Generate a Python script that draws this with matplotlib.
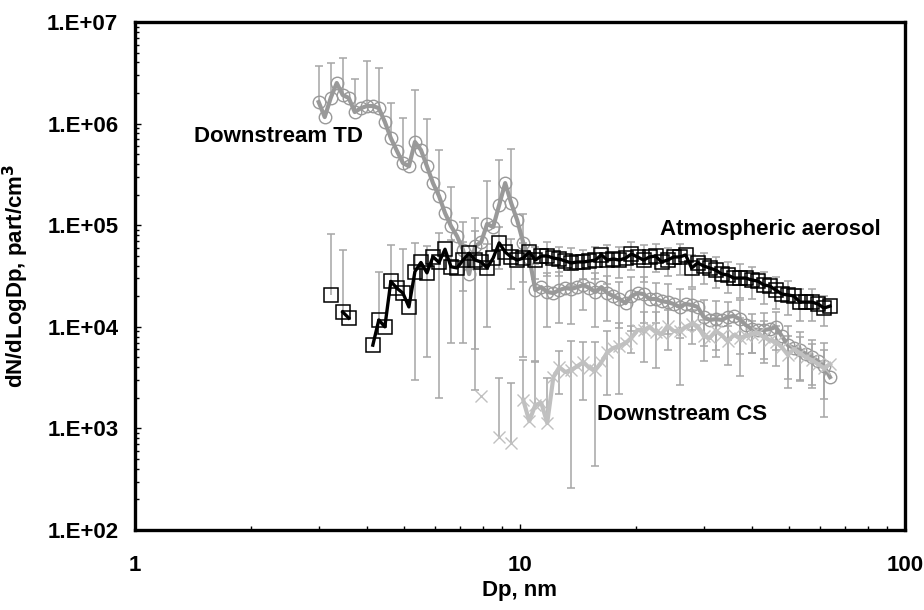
import numpy as np
import matplotlib
matplotlib.use("Agg")
import matplotlib.pyplot as plt
from matplotlib.ticker import LogLocator, FuncFormatter, NullFormatter

plt.rcParams['font.family'] = ['Liberation Sans', 'DejaVu Sans']
plt.rcParams['font.weight'] = 'bold'

nan = np.nan

# particle diameter (nm), SMPS channels
dp = [3.000, 3.110, 3.224, 3.342, 3.464, 3.591, 3.722, 3.859, 4.000, 4.147,
      4.299, 4.456, 4.619, 4.789, 4.964, 5.146, 5.335, 5.530, 5.733, 5.943,
      6.161, 6.386, 6.620, 6.863, 7.114, 7.375, 7.645, 7.925, 8.216, 8.517,
      8.829, 9.152, 9.487, 9.835, 10.20, 10.57, 10.96, 11.36, 11.77, 12.21,
      12.65, 13.12, 13.60, 14.09, 14.61, 15.15, 15.70, 16.28, 16.87, 17.49,
      18.13, 18.80, 19.48, 20.20, 20.94, 21.70, 22.50, 23.32, 24.18, 25.06,
      25.98, 26.93, 27.92, 28.94, 30.00, 31.10, 32.24, 33.42, 34.64, 35.91,
      37.22, 38.59, 40.00, 41.47, 42.99, 44.56, 46.19, 47.89, 49.64, 51.46,
      53.35, 55.30, 57.33, 59.43, 61.61, 63.86]

# Downstream TD
td = [1.63e6, 1.16e6, 1.79e6, 2.51e6, 1.91e6, 1.79e6, 1.30e6, 1.42e6, 1.49e6, 1.49e6,
      1.42e6, 1.04e6, 7.2e5, 5.4e5, 4.1e5, 3.8e5, 6.6e5, 5.5e5, 3.8e5, 2.6e5,
      1.94e5, 1.32e5, 9.8e4, 7.8e4, 5.7e4, 3.3e4, 6.2e4, 6.8e4, 1.03e5, 9.6e4,
      1.58e5, 2.6e5, 1.65e5, 1.12e5, 6.7e4, 4.8e4, 2.30e4, 2.46e4, 2.20e4, 2.15e4,
      2.30e4, 2.41e4, 2.36e4, 2.46e4, 2.58e4, 2.41e4, 2.20e4, 2.46e4, 2.15e4, 2.01e4,
      1.88e4, 1.71e4, 2.01e4, 2.15e4, 2.10e4, 1.88e4, 1.88e4, 1.79e4, 1.75e4, 1.68e4,
      1.57e4, 1.68e4, 1.64e4, 1.57e4, 1.25e4, 1.17e4, 1.19e4, 1.17e4, 1.25e4, 1.28e4,
      1.19e4, 1.04e4, 9.5e3, 9.3e3, 9.3e3, 9.5e3, 9.96e3, 8.1e3, 6.6e3, 6.2e3,
      5.9e3, 5.4e3, 5.0e3, 4.6e3, 4.1e3, 3.2e3]

# Atmospheric aerosol
atm = [nan, nan, 2.06e4, nan, 1.4e4, 1.22e4, nan, nan, nan, 6.6e3,
       1.17e4, 1.0e4, 2.8e4, 2.4e4, 2.15e4, 1.57e4, 3.5e4, 4.3e4, 3.4e4, 4.9e4,
       4.3e4, 5.8e4, 3.9e4, 3.8e4, 4.54e4, 5.3e4, 4.54e4, 4.35e4, 3.8e4, 4.75e4,
       6.7e4, 5.45e4, 4.87e4, 4.54e4, 4.75e4, 5.45e4, 4.54e4, 4.98e4, 4.98e4, 4.75e4,
       4.65e4, 4.44e4, 4.25e4, 4.35e4, 4.35e4, 4.44e4, 4.54e4, 5.1e4, 4.54e4, 4.65e4,
       4.54e4, 4.75e4, 5.2e4, 4.87e4, 4.54e4, 4.87e4, 4.98e4, 4.35e4, 4.54e4, 4.87e4,
       4.87e4, 5.1e4, 3.79e4, 4.25e4, 3.97e4, 3.79e4, 3.62e4, 3.31e4, 3.24e4, 3.02e4,
       3.02e4, 3.02e4, 2.89e4, 2.82e4, 2.58e4, 2.52e4, 2.30e4, 2.10e4, 2.06e4, 2.01e4,
       1.75e4, 1.75e4, 1.75e4, 1.68e4, 1.53e4, 1.60e4]

# Downstream CS
cs = [nan, nan, nan, nan, nan, nan, nan, nan, nan, nan,
      nan, nan, nan, nan, nan, nan, nan, nan, nan, nan,
      nan, nan, nan, nan, nan, nan, nan, 2.08e3, nan, nan,
      8.2e2, nan, 7.2e2, nan, 1.90e3, 1.18e3, 1.70e3, 1.78e3, 1.13e3, 3.2e3,
      4.0e3, 3.59e3, 3.76e3, 4.1e3, 4.5e3, 3.93e3, 3.76e3, 4.5e3, 5.65e3, 6.2e3,
      6.5e3, 6.9e3, 7.8e3, 9.3e3, 9.3e3, 9.96e3, 8.9e3, 8.5e3, 1.02e4, 9.1e3,
      9.1e3, 9.96e3, 1.07e4, 1.02e4, 8.1e3, 7.8e3, 9.1e3, 8.3e3, 7.2e3, 8.3e3,
      7.8e3, 8.1e3, 8.5e3, 8.7e3, 7.9e3, 7.4e3, 7.1e3, 6.3e3, 5.3e3, 6.05e3,
      5.5e3, 5.0e3, 4.7e3, 4.3e3, 3.93e3, 4.3e3]

# standard deviations, every second channel
td_sd = [2.1e6, 2.2e6, 2.5e6, 1.45e6, 2.6e6, 2.1e6, 8.8e5, 7.3e5, 1.5e6, 7.3e5,
         3.5e5, 1.4e5, 5.0e4, 5.6e4, 1.67e5, 2.8e5, 4.0e5, 6.2e4, 1.84e4, 1.2e4,
         1.2e4, 1.3e4, 1.1e4, 1.2e4, 1.0e4, 9e3, 1.1e4, 1.0e4, 8e3, 9e3,
         8e3, 7e3, 6e3, 6e3, 5e3, 6.5e3, 4e3, 4.5e3, 4e3, 3.5e3,
         3e3, 2.5e3, 2.8e3]
atm_sd = [nan, 6.1e4, 4.3e4, nan, nan, 2.3e4, 3.6e4, 3.7e4, 3.2e4, 2.9e4,
          4.1e4, 3.2e4, 2.3e4, 4.3e4, 2.8e4, 3e4, 2.5e4, 2e4, 1.6e4, 1.8e4,
          1.5e4, 1.7e4, 1.4e4, 1.6e4, 1.9e4, 1.5e4, 1.6e4, 1.8e4, 1.5e4, 1.4e4,
          1.6e4, 1.3e4, 1.35e4, 1.2e4, 1.1e4, 1.1e4, 1.0e4, 9e3, 8e3, 7.5e3,
          6e3, 6e3, 5e3]
cs_sd = [nan] * 15 + [2.3e3, 2.1e3, 2.8e3, 2.8e3, 2.0e3, 1.8e3, 3.5e3, 2.6e3, 3.33e3, 3.5e3,
                      4.3e3, 2.3e3, 4.8e3, 5e3, 4.3e3, 6.4e3, 4e3, 3.5e3, 4e3, 3e3,
                      4.5e3, 3e3, 3.5e3, 3e3, 2.8e3, 2.5e3, 2e3, 2e3]

ERR_COLOR = '#a6a6a6'
FS = 16


def draw_err(ax, x, v, sd):
    x = np.asarray(x)[::2]
    v = np.asarray(v)[::2]
    sd = np.asarray(sd)
    ok = ~np.isnan(v) & ~np.isnan(sd)
    x, v, sd = x[ok], v[ok], sd[ok]
    top = v + sd
    low = v - sd
    has_low = low > 0
    bottom = np.where(has_low, low, v)
    ax.vlines(x, bottom, top, color=ERR_COLOR, lw=1.1, zorder=1)
    ax.plot(x, top, ls='none', marker='_', ms=6, mew=1.1, color=ERR_COLOR, zorder=1)
    ax.plot(x[has_low], low[has_low], ls='none', marker='_', ms=6, mew=1.1,
            color=ERR_COLOR, zorder=1)


fig = plt.figure(figsize=(9.24, 6.10), dpi=100)
ax = fig.add_axes([0.1461, 0.1311, 0.8333, 0.8328])

draw_err(ax, dp, td, td_sd)
draw_err(ax, dp, atm, atm_sd)
draw_err(ax, dp, cs, cs_sd)

ax.plot(dp, td, color='#999999', lw=3.0, marker='o', ms=9, mfc='none',
        mec='#999999', mew=1.0, zorder=3)
ax.plot(dp, cs, color='#c0c0c0', lw=3.0, marker='x', ms=9, mec='#c0c0c0',
        mew=1.0, zorder=4)
ax.plot(dp, atm, color='black', lw=2.4, marker='s', ms=10, mfc='none',
        mec='black', mew=1.1, zorder=5)

ax.set_xscale('log')
ax.set_yscale('log')
ax.set_xlim(1, 100)
ax.set_ylim(1e2, 1e7)

ax.xaxis.set_major_locator(LogLocator(base=10))
ax.xaxis.set_minor_locator(LogLocator(base=10, subs=np.arange(2, 10)))
ax.yaxis.set_major_locator(LogLocator(base=10))
ax.yaxis.set_minor_locator(LogLocator(base=10, subs=np.arange(2, 10)))
ax.xaxis.set_major_formatter(FuncFormatter(lambda v, p: f"{v:g}"))
ax.yaxis.set_major_formatter(
    FuncFormatter(lambda v, p: f"1.E+{int(round(np.log10(v))):02d}"))
ax.xaxis.set_minor_formatter(NullFormatter())
ax.yaxis.set_minor_formatter(NullFormatter())

ax.tick_params(axis='both', which='major', direction='in', length=4.5, width=1,
               labelsize=FS, top=False, right=False)
ax.tick_params(axis='both', which='minor', direction='in', length=3, width=1,
               top=False, right=False)
ax.tick_params(axis='x', which='major', pad=18)
ax.tick_params(axis='y', which='major', pad=12)
for lab in ax.get_xticklabels() + ax.get_yticklabels():
    lab.set_fontweight('bold')

for s in ax.spines.values():
    s.set_linewidth(2.4)

ax.set_xlabel('Dp, nm', fontsize=FS, fontweight='bold')
ax.set_ylabel('dN/dLogDp, part/cm$^\\mathbf{3}$', fontsize=FS, fontweight='bold')
ax.xaxis.set_label_coords(0.5, -0.098)
ax.yaxis.set_label_coords(-0.135, 0.5)

fig.text(194 / 924, 1 - 137 / 610, 'Downstream TD', fontsize=FS,
         fontweight='bold', va='center', ha='left')
fig.text(660 / 924, 1 - 229 / 610, 'Atmospheric aerosol', fontsize=FS,
         fontweight='bold', va='center', ha='left')
fig.text(597 / 924, 1 - 414 / 610, 'Downstream CS', fontsize=FS,
         fontweight='bold', va='center', ha='left')

fig.savefig('out.png', dpi=100)
